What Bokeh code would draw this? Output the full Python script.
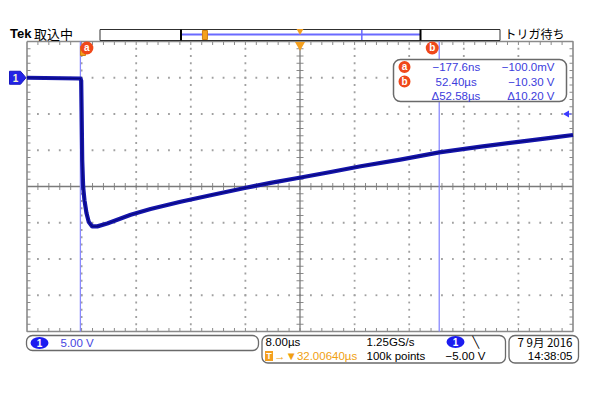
import math
from bokeh.plotting import figure
from bokeh.models import Range1d, BoxAnnotation
from bokeh.core.properties import value
from bokeh.embed import file_html
from bokeh.resources import INLINE

# ---------------- data ----------------
trace_t = [-8.0, -0.18, -0.06, 0.0, 0.09, 0.23, 0.42, 0.72, 1.05, 1.55, 2.3, 3.75,
           7.2, 10.1, 14.5, 18.9, 23.9, 27.7, 31.9, 36.5, 40.9, 46.7, 52.4, 58.5,
           64.3, 68.7, 72.0]
trace_v = [0.0, -0.1, -0.4, -4.5, -11.4, -15.1, -16.9, -18.7, -19.9, -20.5, -20.5, -20.1,
           -18.9, -18.1, -17.1, -16.2, -15.2, -14.5, -13.8, -13.0, -12.2, -11.3, -10.3, -9.5,
           -8.8, -8.3, -7.9]
cursor_labels = ["a", "b"]
cursor_t = [-0.1776, 52.40]
readout_time = ["\u2212177.6ns", "52.40\u00b5s", "\u039452.58\u00b5s"]
readout_volt = ["\u2212100.0mV", "\u221210.30 V", "\u039410.20 V"]
time_per_div = 8.0
volts_per_div = 5.0
t_left = -8.0
v_top = 5.0
trigger_time = 0.0
trigger_level = -5.0
ground_level = 0.0

# ---------------- geometry (page pixels -> data) ----------------
GL, GT = 26.5, 41.0
PXDIV, PYDIV = 54.6, 36.25


def tx(px):
    return t_left + (px - GL) / PXDIV * time_per_div


def vy(py):
    return v_top - (py - GT) / PYDIV * volts_per_div


DPX = time_per_div / PXDIV   # data per pixel (x)
DPY = volts_per_div / PYDIV  # data per pixel (y)

t_right = t_left + 10 * time_per_div
v_bot = v_top - 8 * volts_per_div
t_mid = t_left + 5 * time_per_div
v_mid = v_top - 4 * volts_per_div

p = figure(width=584, height=384,
           x_range=Range1d(tx(0), tx(584)), y_range=Range1d(vy(384), vy(0)),
           x_axis_type=None, y_axis_type=None, toolbar_location=None,
           output_backend="svg", min_border=0, outline_line_color=None,
           background_fill_color="white", border_fill_color="white")
p.grid.visible = False

FONT = "Liberation Sans"
CJK = "Noto Sans CJK JP"


def txt(xs, ys, texts, size="11px", color="black", font=FONT, align="left",
        style="normal"):
    r = p.text(x=[tx(v) for v in xs], y=[vy(v) for v in ys], text=texts,
               text_font=value(font), text_font_size=value(size), text_color=color,
               text_align=align, text_baseline="middle", text_font_style=style)
    r.level = "overlay"
    return r


def rbox(l, r, t, b, radius=5, lc="#6a6a6a", lw=1.2):
    p.add_layout(BoxAnnotation(left=tx(l), right=tx(r), top=vy(t), bottom=vy(b),
                               border_radius=radius, fill_color="white", fill_alpha=1.0,
                               line_color=lc, line_width=lw, line_alpha=1.0,
                               level="annotation"))


# ---------------- graticule ----------------
minor_t = [t_left + k * time_per_div / 5 for k in range(1, 50)]
minor_v = [v_bot + k * volts_per_div / 5 for k in range(1, 40)]
dot_x, dot_y = [], []
for i in range(1, 10):
    if i == 5:
        continue
    x = t_left + i * time_per_div
    for v in minor_v:
        dot_x.append(x)
        dot_y.append(v)
for j in range(1, 8):
    if j == 4:
        continue
    y = v_top - j * volts_per_div
    for t in minor_t:
        dot_x.append(t)
        dot_y.append(y)
p.scatter(dot_x, dot_y, marker="square", size=1.8, color="#a0a0a0", line_color=None)

# ticks on border and center lines
tl = 3.5
x0, y0, x1, y1 = [], [], [], []
for t in minor_t:
    x0 += [t, t, t]
    x1 += [t, t, t]
    y0 += [v_top, v_bot, v_mid - tl * DPY]
    y1 += [v_top - tl * DPY, v_bot + tl * DPY, v_mid + tl * DPY]
for v in minor_v:
    y0 += [v, v, v]
    y1 += [v, v, v]
    x0 += [t_left, t_right, t_mid - tl * DPX]
    x1 += [t_left + tl * DPX, t_right - tl * DPX, t_mid + tl * DPX]
p.segment(x0, y0, x1, y1, line_color="#8a8a8a", line_width=1)

# center cross
p.segment([t_left, t_mid], [v_mid, v_bot], [t_right, t_mid], [v_mid, v_top],
          line_color="#7a7a7a", line_width=1.3)
# border
p.line([t_left, t_right, t_right, t_left, t_left], [v_top, v_top, v_bot, v_bot, v_top],
       line_color="#8a8a8a", line_width=1.6)

# ---------------- cursors ----------------
p.segment(cursor_t, [v_bot] * 2, cursor_t, [v_top] * 2, line_color="#8a8aff", line_width=1.3)

# ---------------- trace ----------------
p.line(trace_t, trace_v, line_color="#1515ac", line_width=4.2, line_join="round")
p.line(trace_t, trace_v, line_color="#08087c", line_width=1.2, line_join="round")

# trigger position marker near cursor a (orange)
p.rect([trigger_time + 0.2], [vy(50.5)], width=5 * DPX, height=9 * DPY,
       fill_color="#f4a020", line_color="#d08010")

# cursor label circles at the top
lab_x = [cursor_t[0] + 6.5 * DPX, cursor_t[1] - 7 * DPX]
p.scatter(lab_x, [vy(47.5)] * 2, marker="circle", size=13, fill_color="#f0481a",
          line_color=None)
p.text(x=lab_x, y=[vy(47.0)] * 2, text=cursor_labels, text_font=value(FONT),
       text_font_size=value("10px"), text_font_style="bold", text_color="white",
       text_align="center", text_baseline="middle")

# orange horizontal-position marker at top center
p.scatter([t_mid], [vy(44.5)], marker="inverted_triangle", size=10,
          fill_color="#f4a020", line_color=None)

# ground marker for channel 1 (left)
gy = ground_level
hh = 6.5 * DPY
p.patch([tx(9), tx(20), tx(25.5), tx(20), tx(9)], [gy + hh, gy + hh, gy, gy - hh, gy - hh],
        fill_color="#2424e6", line_color="#1818c0")
p.text(x=[tx(15)], y=[gy], text=["1"], text_font=value(FONT), text_font_size=value("10px"),
       text_font_style="bold", text_color="#f4f4d0", text_align="center",
       text_baseline="middle")

# trigger level marker (right)
p.scatter([tx(566.5)], [trigger_level], marker="triangle", angle=math.pi / 2, size=7,
          fill_color="#3a3aff", line_color=None)
p.segment([tx(566)], [trigger_level], [tx(571)], [trigger_level], line_color="#3a3aff",
          line_width=1)

# ---------------- top bar ----------------
txt([9.5], [33], ["Tek"], size="13px", style="bold")
txt([33.5], [33], ["取込中"], size="13px", font=CJK)
txt([504], [33], ["トリガ待ち"], size="12px", font=CJK)

p.quad(left=[tx(99.5)], right=[tx(499.5)], top=[vy(29)], bottom=[vy(40)],
       fill_color="white", line_color="#303030", line_width=1)
view_l = tx(180.5)
view_r = tx(420)
p.segment([view_l], [vy(34)], [view_r], [vy(34)], line_color="#6a6aff", line_width=2)
p.segment([view_l, view_r], [vy(29)] * 2, [view_l, view_r], [vy(40)] * 2,
          line_color="black", line_width=2)
rec_scale = (420 - 180.5) / (t_right - t_left)
rec_x = [tx(180.5 + (c - t_left) * rec_scale) for c in cursor_t]
p.segment(rec_x, [vy(29.5)] * 2, rec_x, [vy(39.5)] * 2, line_color="#6a6aff", line_width=1.5)
trig_rec = tx(180.5 + (trigger_time - t_left) * rec_scale)
p.rect([trig_rec], [vy(34.5)], width=5 * DPX, height=9 * DPY, fill_color="#f4a020",
       line_color="#d08010")
p.scatter([t_mid], [vy(30.5)], marker="inverted_triangle", size=7,
          fill_color="#f4a020", line_color=None)

# ---------------- cursor readout box ----------------
rbox(393, 566, 59, 101, radius=7, lc="#6a6a6a", lw=1.5)
rows = [66.5, 81, 95]
rc = p.scatter([tx(404)] * 2, [vy(rows[0]), vy(rows[1])], marker="circle", size=12,
               fill_color="#f0481a", line_color=None)
rc.level = "overlay"
txt([404, 404], [rows[0] - 0.5, rows[1] - 0.5], cursor_labels, size="10px", color="white",
    align="center", style="bold")
BLUE_T = "#3c3cdc"
txt([432, 435, 431], rows, readout_time, color=BLUE_T, size="11.5px")
txt([554, 554, 554], rows, readout_volt, color=BLUE_T, size="11.5px", align="right")

# ---------------- bottom status boxes ----------------
rbox(26, 258, 335, 350, radius=6, lc="#6a6a6a", lw=1.3)
rbox(261.5, 505, 335, 362.5, radius=6, lc="#6a6a6a", lw=1.3)
rbox(508.5, 578, 335, 362.5, radius=6, lc="#6a6a6a", lw=1.3)

badge = p.ellipse([tx(39), tx(455)], [vy(342.5), vy(341.5)], width=18 * DPX, height=12 * DPY,
                  fill_color="#1c1cf0", line_color=None)
badge.level = "overlay"
txt([39, 455], [342.5, 341.5], ["1", "1"], size="10px", color="white", align="center",
    style="bold")
txt([60], [342.5], ["%.2f V" % volts_per_div], color="#4646e0", size="11.5px")

txt([265], [341.5], ["%.2f\u00b5s" % time_per_div], size="11.5px")
txt([366], [341.5], ["1.25GS/s"], size="11.5px")
txt([472], [341.5], ["\u2572"], size="11px", font="DejaVu Sans")
tb = p.rect([tx(268.5)], [vy(355.5)], width=8 * DPX, height=10 * DPY, fill_color="#f4a020",
            line_color=None)
tb.level = "overlay"
txt([268.5], [355.5], ["T"], size="9px", color="white", align="center", style="bold")
txt([273.5], [355.5], ["\u2192\u25bc32.00640\u00b5s"], size="11.5px", color="#f0a010")
txt([366], [355.5], ["100k points"], size="11.5px")
txt([445], [355.5], ["\u22125.00 V"], size="11.5px")

txt([572], [341.5], ["7 9月 2016"], size="11.5px", font=CJK, align="right")
txt([572], [355.5], ["14:38:05"], size="11.5px", align="right")

open("out.html", "w").write(file_html(p, INLINE))
